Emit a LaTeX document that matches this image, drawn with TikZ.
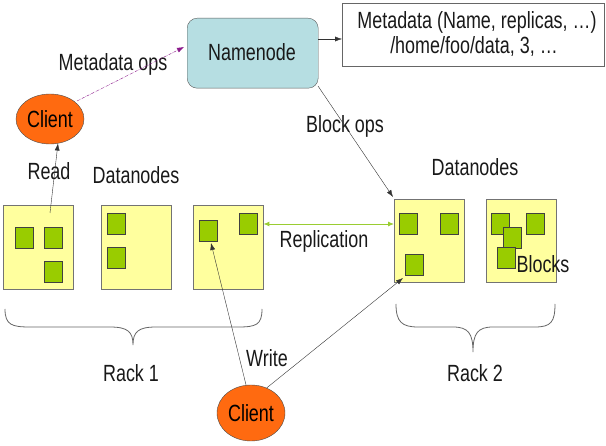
\documentclass[tikz,border=0pt]{standalone}
\usepackage{fontspec}
\usepackage{graphicx}
\setmainfont{Liberation Sans}
\usetikzlibrary{arrows.meta,shapes.geometric}
\definecolor{nnfill}{HTML}{B6DEE2}
\definecolor{clfill}{HTML}{FF6A10}
\definecolor{dnfill}{HTML}{FFFF9E}
\definecolor{blkfill}{HTML}{99CC00}
\definecolor{repl}{HTML}{9ACD32}
\definecolor{meta}{HTML}{8B1A8B}
\newcommand\stx[1]{\scalebox{0.98}[1.28]{#1}}
\tikzset{
  lbl/.style={font=\fontsize{18.3}{21}\selectfont, text=black!90, inner sep=0pt},
  dnbox/.style={draw=black!55, fill=dnfill, minimum width=70pt, minimum height=84pt, inner sep=0pt},
  blk/.style={draw=black!75, fill=blkfill, minimum width=18pt, minimum height=21pt, inner sep=0pt},
  client/.style={ellipse, draw=black!70, fill=clfill, minimum width=68pt, minimum height=50pt, inner sep=0pt, font=\fontsize{18.3}{21}\selectfont},
  arr/.style={draw=black!80, -{Latex[length=7pt,width=5pt]}},
  brace/.style={draw=black!60, line width=0.8pt}
}
\begin{document}
\begin{tikzpicture}[x=1pt,y=-1pt]
\useasboundingbox (0,0) rectangle (606,446);
% Namenode
\node[draw=black!65, fill=nnfill, rounded corners=10pt, minimum width=131pt, minimum height=70pt, lbl, anchor=north west] (nn) at (187,18) {};
\node[lbl] (nnt) at (252,52) {\stx{Namenode}};
% Metadata box
\node[draw=black!60, fill=white, minimum width=262pt, minimum height=63pt, anchor=north west, inner sep=0pt] (md) at (342,3) {};
\node[lbl] (md1) at (477,22) {\stx{Metadata (Name, replicas, …)}};
\node[lbl] (md2) at (474,47) {\stx{/home/foo/data, 3, …}};
\draw[arr] (nn.east |- 0,39) -- (md.west |- 0,39);
% Clients
\node[client] (c1) at (50,119) {\stx{Client}};
\node[client, minimum height=56pt] (c2) at (251,413) {\stx{Client}};
% Datanodes rack 1
\node[dnbox, anchor=north west] (d1) at (3,205) {};
\node[dnbox, anchor=north west] (d2) at (101,205) {};
\node[dnbox, anchor=north west] (d3) at (193,205) {};
% rack 2
\node[dnbox, anchor=north west, minimum height=83pt] (d4) at (394,199) {};
\node[dnbox, anchor=north west, minimum height=83pt] (d5) at (486,199) {};
% blocks
\node[blk, anchor=north west] (b11) at (15,227) {};
\node[blk, anchor=north west] (b12) at (44,227) {};
\node[blk, anchor=north west] (b13) at (44,261) {};
\node[blk, anchor=north west] (b21) at (107,213) {};
\node[blk, anchor=north west] (b22) at (107,247) {};
\node[blk, anchor=north west] (b31) at (199,220) {};
\node[blk, anchor=north west] (b32) at (239,213) {};
\node[blk, anchor=north west] (b41) at (399,213) {};
\node[blk, anchor=north west] (b42) at (440,213) {};
\node[blk, anchor=north west] (b43) at (405,254) {};
\node[blk, anchor=north west] (b51) at (491,213) {};
\node[blk, anchor=north west] (b52) at (526,213) {};
\node[blk, anchor=north west] (b53) at (503,227) {};
\node[blk, anchor=north west] (b54) at (497,247) {};
% labels
\node[lbl] (lmo) at (113,64) {\stx{Metadata ops}};
\node[lbl] (lread) at (49,171) {\stx{Read}};
\node[lbl] (ldn1) at (136,175) {\stx{Datanodes}};
\node[lbl] (ldn2) at (475,167) {\stx{Datanodes}};
\node[lbl] (lbo) at (345,126) {\stx{Block ops}};
\node[lbl] (lrep) at (324,241) {\stx{Replication}};
\node[lbl] (lblk) at (543,264) {\stx{Blocks}};
\node[lbl] (lwr) at (267,358) {\stx{Write}};
\node[lbl] (lr1) at (131,373) {\stx{Rack 1}};
\node[lbl] (lr2) at (475,373) {\stx{Rack 2}};
% connectors
\coordinate (mostart) at (77,101);
\coordinate (moend) at (184,47);
\draw[meta, densely dashdotted, -{Latex[length=7pt,width=5pt]}] (mostart) -- (moend);
\coordinate (rdstart) at (50,213);
\draw[arr] (rdstart) -- (c1.-72);
\coordinate (bostart) at (318,86);
\coordinate (boend) at (393,197);
\draw[arr] (bostart) -- (boend);
\draw[repl, line width=0.9pt, {Latex[length=6pt,width=5pt]}-{Latex[length=6pt,width=5pt]}] (d3.east |- 0,224) -- (d4.west |- 0,224);
\coordinate (wrend) at (211,243);
\draw[arr] (c2.100) -- (wrend);
\coordinate (wr2end) at (403,278);
\draw[arr] (c2.58) -- (wr2end);
% braces
\draw[brace] (5,309) .. controls (5,325) and (12,327) .. (30,327) -- (110,327) .. controls (128,327) and (133,332) .. (133,345)
  .. controls (133,332) and (138,327) .. (156,327) -- (238,327) .. controls (256,327) and (262,325) .. (262,309);
\draw[brace] (396,304) .. controls (396,322) and (402,327) .. (418,327) -- (453,327) .. controls (468,327) and (473,333) .. (473,352)
  .. controls (473,333) and (478,327) .. (493,327) -- (535,327) .. controls (551,327) and (555,322) .. (555,304);
\end{tikzpicture}
\end{document}
